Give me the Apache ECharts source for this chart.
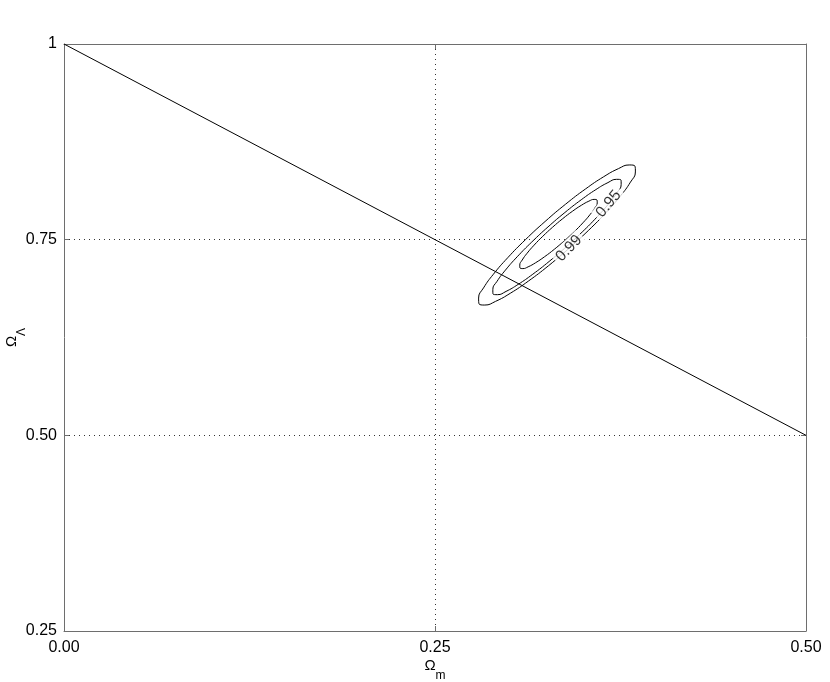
<!DOCTYPE html>
<html>
<head>
<meta charset="utf-8">
<script src="https://cdn.jsdelivr.net/npm/echarts@6/dist/echarts.min.js"></script>
<style>
html,body{margin:0;padding:0;background:#fff;}
#chart{width:830px;height:682px;}
</style>
</head>
<body>
<div id="chart"></div>
<script>
// ---- data ----
const xTicks = ['0.00', '0.25', '0.50'];
const yTicks = ['0.25', '0.50', '0.75', '1'];

// flat-universe line Omega_m + Omega_Lambda = 1
const flatLine = [[0.0, 1.0], [0.5, 0.5]];

// outer contour (labelled 0.99)
const contourOuter = [
  [0.34025, 0.73872], [0.32639, 0.71653], [0.31290, 0.69701], [0.30076, 0.68152],
  [0.29074, 0.67111], [0.28355, 0.66647], [0.27968, 0.66793], [0.27939, 0.67539],
  [0.28270, 0.68835], [0.28938, 0.70590], [0.29898, 0.72687], [0.31085, 0.74983],
  [0.32417, 0.77320], [0.33803, 0.79539], [0.35152, 0.81491], [0.36366, 0.83040],
  [0.37368, 0.84081], [0.38087, 0.84545], [0.38474, 0.84399], [0.38503, 0.83653],
  [0.38172, 0.82357], [0.37504, 0.80602], [0.36544, 0.78505], [0.35357, 0.76209],
  [0.34025, 0.73872]
];
// middle contour (labelled 0.95)
const contourMiddle = [
  [0.33826, 0.74052], [0.32689, 0.72211], [0.31588, 0.70584], [0.30599, 0.69281],
  [0.29788, 0.68391], [0.29211, 0.67973], [0.28907, 0.68059], [0.28897, 0.68641],
  [0.29182, 0.69679], [0.29743, 0.71103], [0.30540, 0.72816], [0.31521, 0.74701],
  [0.32616, 0.76630], [0.33753, 0.78471], [0.34854, 0.80098], [0.35843, 0.81401],
  [0.36654, 0.82291], [0.37231, 0.82709], [0.37535, 0.82623], [0.37545, 0.82041],
  [0.37260, 0.81003], [0.36699, 0.79579], [0.35902, 0.77866], [0.34921, 0.75981],
  [0.33826, 0.74052]
];
// inner contour
const contourInner = [
  [0.33724, 0.74863], [0.33039, 0.73768], [0.32373, 0.72806], [0.31772, 0.72043],
  [0.31277, 0.71531], [0.30920, 0.71305], [0.30728, 0.71380], [0.30712, 0.71751],
  [0.30875, 0.72393], [0.31204, 0.73261], [0.31677, 0.74298], [0.32263, 0.75432],
  [0.32920, 0.76585], [0.33605, 0.77680], [0.34271, 0.78642], [0.34872, 0.79405],
  [0.35367, 0.79917], [0.35724, 0.80143], [0.35916, 0.80068], [0.35932, 0.79697],
  [0.35769, 0.79055], [0.35440, 0.78187], [0.34967, 0.77150], [0.34381, 0.76016],
  [0.33724, 0.74863]
];
// contour labels: [x, y, text]
const contourLabel99 = [0.34025, 0.73872, '0.99'];
const contourLabel95 = [0.36699, 0.79579, '0.95'];

// ---- chart ----
const chart = echarts.init(document.getElementById('chart'), null, {renderer: 'canvas'});
const FONT = '"Liberation Sans", Arial, Helvetica, sans-serif';
const axisCol = '#6e6e6e';

function contourSeries(data) {
  return {
    type: 'line', data: data, smooth: 0.5, showSymbol: false, symbol: 'none',
    xAxisIndex: 0, yAxisIndex: 0, silent: true, z: 3,
    lineStyle: {color: '#000', width: 1}
  };
}
function labelSeries(lab, rot) {
  return {
    type: 'scatter', data: [[lab[0], lab[1]]], symbolSize: 1,
    itemStyle: {color: 'rgba(0,0,0,0)'}, z: 5, silent: true,
    label: {
      show: true, position: 'inside', formatter: lab[2], rotate: rot,
      color: '#000', fontFamily: FONT, fontSize: 15.5,
      backgroundColor: '#fff', padding: [0, 3, 0, 3]
    }
  };
}
const nameRich = {
  o: {fontFamily: FONT, fontSize: 15, lineHeight: 24, verticalAlign: 'top', color: '#000'},
  s: {fontFamily: FONT, fontSize: 12, lineHeight: 14, verticalAlign: 'bottom', color: '#000'}
};

const option = {
  backgroundColor: '#fff',
  animation: false,
  grid: {left: 64, right: 24, top: 44, bottom: 51, containLabel: false, outerBoundsMode: 'none'},
  xAxis: [{
    type: 'value', min: 0, max: 0.5, interval: 0.25, position: 'bottom',
    name: '{o|Ω}{s|m}', nameLocation: 'middle', nameGap: 27, nameMoveOverlap: false,
    nameTextStyle: {rich: nameRich},
    axisLine: {show: true, onZero: false, lineStyle: {color: axisCol, width: 1}},
    axisTick: {show: true, inside: true, length: 5, lineStyle: {color: axisCol}},
    axisLabel: {
      margin: 9, color: '#000', fontFamily: FONT, fontSize: 16,
      formatter: v => xTicks[Math.round(v / 0.25)]
    },
    splitLine: {show: true, lineStyle: {color: '#333', type: [1, 4], width: 1}}
  }, {
    type: 'value', min: 0, max: 0.5, interval: 0.25, position: 'top',
    axisLine: {show: true, onZero: false, lineStyle: {color: axisCol, width: 1}},
    axisTick: {show: true, inside: true, length: 5, lineStyle: {color: axisCol}},
    axisLabel: {show: false}, splitLine: {show: false}
  }],
  yAxis: [{
    type: 'value', min: 0.25, max: 1, interval: 0.25, position: 'left',
    name: '{o|Ω}{s|Λ}', nameLocation: 'middle', nameGap: 36, nameRotate: 90, nameMoveOverlap: false,
    nameTextStyle: {rich: nameRich},
    axisLine: {show: true, onZero: false, lineStyle: {color: axisCol, width: 1}},
    axisTick: {show: true, inside: true, length: 5, lineStyle: {color: axisCol}},
    axisLabel: {
      margin: 7, color: '#000', fontFamily: FONT, fontSize: 16,
      formatter: v => yTicks[Math.round((v - 0.25) / 0.25)]
    },
    splitLine: {show: true, lineStyle: {color: '#333', type: [1, 4], width: 1}}
  }, {
    type: 'value', min: 0.25, max: 1, interval: 0.25, position: 'right',
    axisLine: {show: true, onZero: false, lineStyle: {color: axisCol, width: 1}},
    axisTick: {show: true, inside: true, length: 5, lineStyle: {color: axisCol}},
    axisLabel: {show: false}, splitLine: {show: false}
  }],
  series: [
    {
      type: 'line', data: flatLine, showSymbol: false, symbol: 'none', silent: true, z: 3,
      lineStyle: {color: '#000', width: 1}
    },
    contourSeries(contourOuter),
    contourSeries(contourMiddle),
    contourSeries(contourInner),
    labelSeries(contourLabel99, 46),
    labelSeries(contourLabel95, 50)
  ]
};
chart.setOption(option);
</script>
</body>
</html>
